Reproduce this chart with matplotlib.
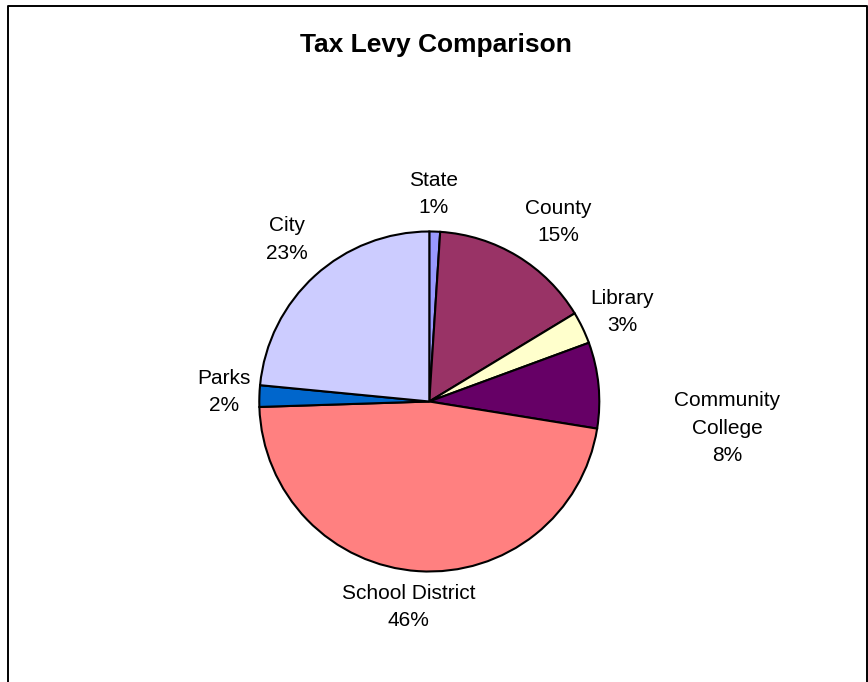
import numpy as np
import matplotlib
matplotlib.use("Agg")
from matplotlib import pyplot as plt
from matplotlib.lines import Line2D

plt.rcParams['font.family'] = ['Liberation Sans', 'DejaVu Sans']

# levy shares (percent)
names = ["State", "County", "Library", "Community\nCollege",
         "School District", "Parks", "City"]
shares = [1, 15, 3, 8, 46, 2, 23]
colors = ["#9999FF", "#993366", "#FFFFCC", "#660066",
          "#FF8080", "#0066CC", "#CCCCFF"]

# label placement: radial factor and angle nudge (deg) per slice
lab_dist = [1.22, 1.30, 1.25, 1.76, 1.215, 1.21, 1.27]
lab_turn = [0.8, -4.4, -0.8, -10.6, -2.0, -0.8, -0.9]

W, H = 868, 682
fig = plt.figure(figsize=(W / 100, H / 100), dpi=100)
ax = fig.add_axes([0, 0, 1, 1])

cx, cy, rad = 429.3, H - 401.5, 170
wedges, _ = ax.pie(shares, colors=colors, startangle=90, counterclock=False,
                   center=(cx, cy), radius=rad,
                   wedgeprops=dict(edgecolor="black", linewidth=1.5))

for w, name, val, f, t in zip(wedges, names, shares, lab_dist, lab_turn):
    ang = np.deg2rad((w.theta1 + w.theta2) / 2 + t)
    ax.text(cx + f * rad * np.cos(ang), cy + f * rad * np.sin(ang),
            f"{name}\n{val}%", ha="center", va="center",
            multialignment="center", fontsize=15, linespacing=1.55)

ax.set_xlim(0, W)
ax.set_ylim(0, H)
ax.set_aspect("equal")
ax.axis("off")

ax.text(435.5, H - 52, "Tax Levy Comparison", ha="center", va="baseline",
        fontsize=19, fontweight="bold")

# chart area frame (open at the bottom)
ax.add_line(Line2D([7.5, 7.5, 866.5, 866.5], [-5, H - 5.5, H - 5.5, -5],
                   color="black", linewidth=1.4, clip_on=False))

fig.savefig("out.png", dpi=100)
